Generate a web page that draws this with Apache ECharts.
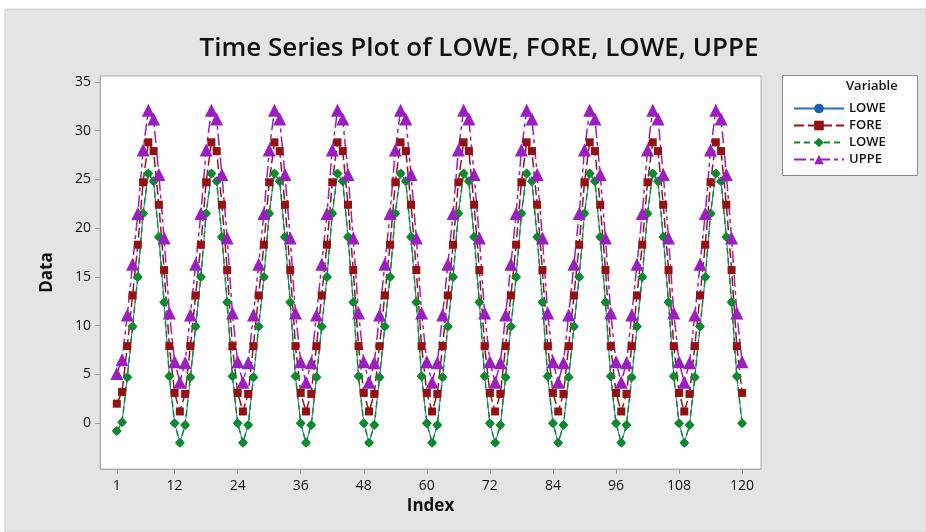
<!DOCTYPE html>
<html>
<head>
<meta charset="utf-8">
<script src="https://cdn.jsdelivr.net/npm/echarts@6/dist/echarts.min.js"></script>
<style>
  html, body { margin: 0; padding: 0; background: #fff; }
  #main { width: 926px; height: 532px; }
</style>
</head>
<body>
<div id="main"></div>
<script>
// values, one row per 12 indices
var loweA = [
  -0.8, 0.1, 4.7, 9.9, 15.0, 21.5, 25.6, 24.8, 19.1, 12.4, 4.8, 0.0,
  -2.0, -0.2, 4.7, 9.9, 15.0, 21.5, 25.6, 24.8, 19.1, 12.4, 4.8, 0.0,
  -2.0, -0.2, 4.7, 9.9, 15.0, 21.5, 25.6, 24.8, 19.1, 12.4, 4.8, 0.0,
  -2.0, -0.2, 4.7, 9.9, 15.0, 21.5, 25.6, 24.8, 19.1, 12.4, 4.8, 0.0,
  -2.0, -0.2, 4.7, 9.9, 15.0, 21.5, 25.6, 24.8, 19.1, 12.4, 4.8, 0.0,
  -2.0, -0.2, 4.7, 9.9, 15.0, 21.5, 25.6, 24.8, 19.1, 12.4, 4.8, 0.0,
  -2.0, -0.2, 4.7, 9.9, 15.0, 21.5, 25.6, 24.8, 19.1, 12.4, 4.8, 0.0,
  -2.0, -0.2, 4.7, 9.9, 15.0, 21.5, 25.6, 24.8, 19.1, 12.4, 4.8, 0.0,
  -2.0, -0.2, 4.7, 9.9, 15.0, 21.5, 25.6, 24.8, 19.1, 12.4, 4.8, 0.0,
  -2.0, -0.2, 4.7, 9.9, 15.0, 21.5, 25.6, 24.8, 19.1, 12.4, 4.8, 0.0
];
var fore = [
  2.0, 3.2, 7.9, 13.1, 18.3, 24.7, 28.8, 27.9, 22.4, 15.7, 7.9, 3.1,
  1.2, 3.0, 7.9, 13.1, 18.3, 24.7, 28.8, 27.9, 22.4, 15.7, 7.9, 3.1,
  1.2, 3.0, 7.9, 13.1, 18.3, 24.7, 28.8, 27.9, 22.4, 15.7, 7.9, 3.1,
  1.2, 3.0, 7.9, 13.1, 18.3, 24.7, 28.8, 27.9, 22.4, 15.7, 7.9, 3.1,
  1.2, 3.0, 7.9, 13.1, 18.3, 24.7, 28.8, 27.9, 22.4, 15.7, 7.9, 3.1,
  1.2, 3.0, 7.9, 13.1, 18.3, 24.7, 28.8, 27.9, 22.4, 15.7, 7.9, 3.1,
  1.2, 3.0, 7.9, 13.1, 18.3, 24.7, 28.8, 27.9, 22.4, 15.7, 7.9, 3.1,
  1.2, 3.0, 7.9, 13.1, 18.3, 24.7, 28.8, 27.9, 22.4, 15.7, 7.9, 3.1,
  1.2, 3.0, 7.9, 13.1, 18.3, 24.7, 28.8, 27.9, 22.4, 15.7, 7.9, 3.1,
  1.2, 3.0, 7.9, 13.1, 18.3, 24.7, 28.8, 27.9, 22.4, 15.7, 7.9, 3.1
];
var loweB = loweA.slice(); // second LOWE column holds the same numbers
var uppe = [
  5.1, 6.5, 11.1, 16.3, 21.5, 28.0, 32.1, 31.2, 25.5, 19.0, 11.3, 6.3,
  4.2, 6.2, 11.1, 16.3, 21.5, 28.0, 32.1, 31.2, 25.5, 19.0, 11.3, 6.3,
  4.2, 6.2, 11.1, 16.3, 21.5, 28.0, 32.1, 31.2, 25.5, 19.0, 11.3, 6.3,
  4.2, 6.2, 11.1, 16.3, 21.5, 28.0, 32.1, 31.2, 25.5, 19.0, 11.3, 6.3,
  4.2, 6.2, 11.1, 16.3, 21.5, 28.0, 32.1, 31.2, 25.5, 19.0, 11.3, 6.3,
  4.2, 6.2, 11.1, 16.3, 21.5, 28.0, 32.1, 31.2, 25.5, 19.0, 11.3, 6.3,
  4.2, 6.2, 11.1, 16.3, 21.5, 28.0, 32.1, 31.2, 25.5, 19.0, 11.3, 6.3,
  4.2, 6.2, 11.1, 16.3, 21.5, 28.0, 32.1, 31.2, 25.5, 19.0, 11.3, 6.3,
  4.2, 6.2, 11.1, 16.3, 21.5, 28.0, 32.1, 31.2, 25.5, 19.0, 11.3, 6.3,
  4.2, 6.2, 11.1, 16.3, 21.5, 28.0, 32.1, 31.2, 25.5, 19.0, 11.3, 6.3
];
var xTicks = [1, 12, 24, 36, 48, 60, 72, 84, 96, 108, 120];
var yTicks = [0, 5, 10, 15, 20, 25, 30, 35];
var legendNames = {L1: 'LOWE', F: 'FORE', L2: 'LOWE', U: 'UPPE'};

function pairs(arr) {
  var out = [];
  for (var i = 0; i < arr.length; i++) out.push([i + 1, arr[i]]);
  return out;
}

var chart = echarts.init(document.getElementById('main'));
var font = '"Open Sans", "Noto Sans", sans-serif';

var option = {
  backgroundColor: '#fff',
  animation: false,
  textStyle: {fontFamily: font},
  title: {
    text: 'Time Series Plot of LOWE, FORE, LOWE, UPPE',
    left: 474, top: 31, textAlign: 'center',
    textStyle: {fontSize: 26, fontWeight: 600, color: '#111', fontFamily: font}
  },
  graphic: [
    {type: 'rect', z: -10, shape: {x: 5, y: 9, width: 921, height: 523},
      style: {fill: '#e4e4e4', stroke: '#cfcfcf', lineWidth: 1}},
    {type: 'rect', z: 1, shape: {x: 782.5, y: 75.5, width: 135, height: 100},
      style: {fill: '#fff', stroke: '#8c8c8c', lineWidth: 1}},
    {type: 'text', z: 2, left: 846, top: 80,
      style: {text: 'Variable', fill: '#111', font: '600 13px ' + font}}
  ],
  legend: {
    orient: 'vertical', left: 788, top: 97, z: 5,
    itemWidth: 50, itemHeight: 12, itemGap: 4,
    data: ['L1', 'F', 'L2', 'U'],
    formatter: function (n) { return legendNames[n]; },
    textStyle: {fontSize: 13, fontWeight: 600, color: '#111', fontFamily: font}
  },
  grid: {
    left: 100, top: 76, right: 165, bottom: 63,
    show: true, backgroundColor: '#fff', borderColor: '#b0b0b0', borderWidth: 1
  },
  xAxis: {
    type: 'value', min: -2.2, max: 123.6,
    name: 'Index', nameLocation: 'middle', nameGap: 27,
    nameTextStyle: {fontSize: 17, fontWeight: 'bold', color: '#111'},
    splitLine: {show: false},
    axisLine: {show: true, onZero: false, lineStyle: {color: '#b0b0b0'}},
    axisTick: {show: true, customValues: xTicks, length: 5, lineStyle: {color: '#999'}},
    axisLabel: {customValues: xTicks, fontSize: 14, fontWeight: 500, color: '#111', margin: 10}
  },
  yAxis: {
    type: 'value', min: -4.7, max: 35.6,
    name: 'Data', nameLocation: 'middle', nameGap: 44, nameRotate: 90,
    nameTextStyle: {fontSize: 17, fontWeight: 'bold', color: '#111'},
    splitLine: {show: false},
    axisLine: {show: true, onZero: false, lineStyle: {color: '#b0b0b0'}},
    axisTick: {show: true, customValues: yTicks, length: 5, lineStyle: {color: '#999'}},
    axisLabel: {customValues: yTicks, fontSize: 14, fontWeight: 500, color: '#111', margin: 9}
  },
  series: [
    {
      name: 'L1', type: 'line', data: pairs(loweA),
      symbol: 'circle', symbolSize: 7,
      lineStyle: {color: '#2a6fc6', width: 1, type: 'solid'},
      itemStyle: {color: '#1f5fb8'}
    },
    {
      name: 'F', type: 'line', data: pairs(fore),
      symbol: 'rect', symbolSize: 8,
      lineStyle: {color: '#9a1414', width: 1.5, type: [10, 4]},
      itemStyle: {color: '#941111'}
    },
    {
      name: 'L2', type: 'line', data: pairs(loweB),
      symbol: 'diamond', symbolSize: 10,
      lineStyle: {color: '#0d8a2c', width: 1.5, type: [6, 4]},
      itemStyle: {color: '#0d8a2c'}
    },
    {
      name: 'U', type: 'line', data: pairs(uppe),
      symbol: 'triangle', symbolSize: 13,
      lineStyle: {color: '#9b1fbf', width: 1.5, type: [12, 4, 4, 4]},
      itemStyle: {color: '#9b1fbf'}
    }
  ]
};
chart.setOption(option);
</script>
</body>
</html>
